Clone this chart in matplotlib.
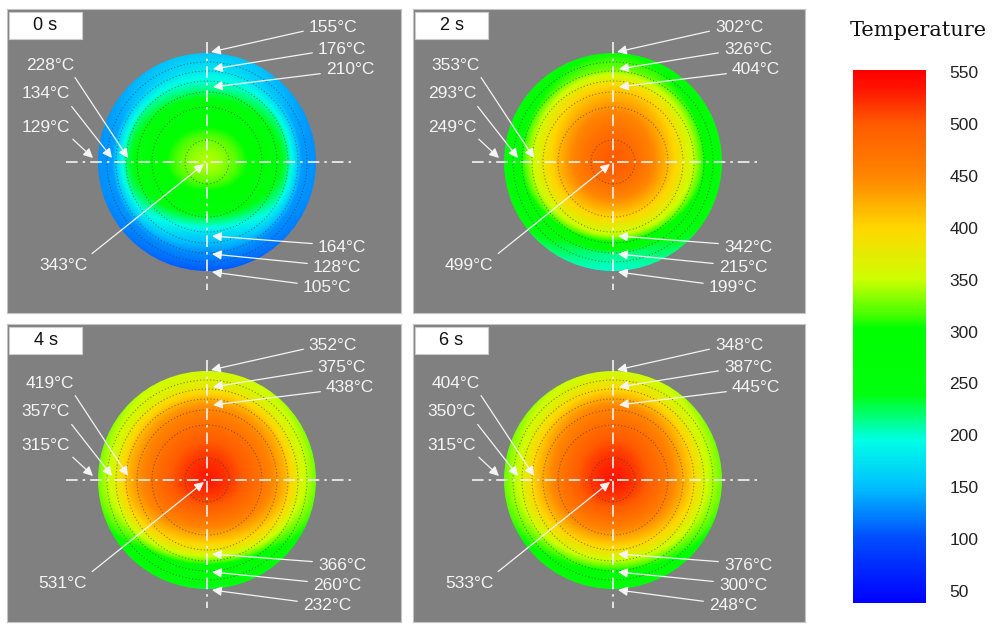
import numpy as np
import matplotlib
matplotlib.use('Agg')
import matplotlib.pyplot as plt
from matplotlib.colors import LinearSegmentedColormap, Normalize
from matplotlib.patches import Circle, Rectangle
from matplotlib.cm import ScalarMappable

# ── Data ─────────────────────────────────────────────────────────────────────

times = ['0 s', '2 s', '4 s', '6 s']
center_temp = [343, 499, 531, 533]
# top radius, outer -> inner
top_temp = [[155, 176, 210], [302, 326, 404], [352, 375, 438], [348, 387, 445]]
# left radius, inner -> outer
left_temp = [[228, 134, 129], [353, 293, 249], [419, 357, 315], [404, 350, 315]]
# bottom radius, inner -> outer
bottom_temp = [[164, 128, 105], [342, 215, 199], [366, 260, 232], [376, 300, 248]]
cbar_ticks = [50, 100, 150, 200, 250, 300, 350, 400, 450, 500, 550]

# ── Layout (pixels, relative to the disk centre, y up) ───────────────────────

W, H = 992, 630
R = 109
panels = [(7, 9, 401, 313, 207, 162), (413, 9, 805, 313, 613, 162),
          (7, 324, 401, 622, 207, 480), (413, 324, 805, 622, 613, 480)]

top_tips = [(4, 110), (6, 93), (6, 75)]
top_text = [(126, 135), (135, 113), (143, 92)]
left_tips = [(-79, 4), (-95, 4), (-114, 4)]
left_text = [(-157, 97), (-161, 68), (-161, 35)]
bot_tips = [(5, -74), (5, -92), (5, -110)]
bot_text = [(135, -85), (130, -105), (120, -125)]
mid_tip, mid_text = (-3, -2), (-144, -103)

vmin, vmax = 38.4, 552
cmap = LinearSegmentedColormap.from_list('temp', [
    (0.0, (0.0, 0.0, 1.0)),
    ((100 - vmin) / (vmax - vmin), (0.0, 0.30, 1.0)),
    ((150 - vmin) / (vmax - vmin), (0.0, 0.75, 1.0)),
    ((195 - vmin) / (vmax - vmin), (0.0, 1.0, 0.90)),
    ((240 - vmin) / (vmax - vmin), (0.0, 1.0, 0.05)),
    ((303 - vmin) / (vmax - vmin), (0.0, 1.0, 0.0)),
    ((318 - vmin) / (vmax - vmin), (0.3, 1.0, 0.0)),
    ((350 - vmin) / (vmax - vmin), (0.8, 1.0, 0.0)),
    ((400 - vmin) / (vmax - vmin), (1.0, 0.84, 0.0)),
    ((450 - vmin) / (vmax - vmin), (1.0, 0.52, 0.0)),
    ((500 - vmin) / (vmax - vmin), (1.0, 0.36, 0.0)),
    ((535 - vmin) / (vmax - vmin), (1.0, 0.08, 0.0)),
    (1.0, (1.0, 0.0, 0.0)),
])
norm = Normalize(vmin, vmax)

plt.rcParams['font.family'] = ['Liberation Sans', 'DejaVu Sans']
fig = plt.figure(figsize=(W / 100, H / 100), dpi=100)

g = np.linspace(-R, R, 300)
X, Y = np.meshgrid(g, g)
k = 1.6                          # profiles interpolated in r^k -> flatter centre
radk = np.hypot(X, Y) ** k
th = np.arctan2(Y, X)
w_top = np.clip(np.sin(th), 0, None) ** 2
w_bot = np.clip(-np.sin(th), 0, None) ** 2
w_side = np.cos(th) ** 2

white = '#f4f4f4'
for i, (l, t, r, b, cx, cy) in enumerate(panels):
    ax = fig.add_axes([l / W, 1 - b / H, (r - l) / W, (b - t) / H])
    ax.set_xlim(l - cx, r - cx)
    ax.set_ylim(cy - b, cy - t)
    ax.set_facecolor('#808080')
    ax.set_xticks([])
    ax.set_yticks([])
    for s in ax.spines.values():
        s.set_color('#c4c4c4')

    # radial profiles through the labelled points
    c = center_temp[i]
    p_top = np.interp(radk, [0] + [abs(p[1]) ** k for p in top_tips[::-1]],
                      [c] + top_temp[i][::-1])
    p_side = np.interp(radk, [0] + [abs(p[0]) ** k for p in left_tips], [c] + left_temp[i])
    p_bot = np.interp(radk, [0] + [abs(p[1]) ** k for p in bot_tips], [c] + bottom_temp[i])
    T = w_top * p_top + w_bot * p_bot + w_side * p_side

    disk = Circle((0, 0), R, transform=ax.transData)
    im = ax.imshow(T, extent=(-R, R, -R, R), origin='lower', cmap=cmap, norm=norm,
                   interpolation='bilinear', zorder=1)
    im.set_clip_path(disk)

    for rr in [22, 55, 70, 81, 91, 100]:
        ax.add_patch(Circle((0, 0), rr, fill=False, ec='#303030', lw=0.8,
                            ls=(0, (1, 2)), alpha=0.55, zorder=2))

    ax.plot([-141, 145], [0, 0], color=white, lw=1.2, ls=(0, (7, 3, 1.5, 3)), zorder=3)
    ax.plot([0, 0], [120, -128], color=white, lw=1.2, ls=(0, (7, 3, 1.5, 3)), zorder=3)

    groups = [
        (top_tips, top_text, [str(v) for v in top_temp[i]], (0, 0.3)),
        (left_tips, left_text, [str(v) for v in left_temp[i]], (0.95, 0)),
        (bot_tips, bot_text, [str(v) for v in bottom_temp[i]], (0, 0.7)),
        ([mid_tip], [mid_text], [str(c)], (1, 1)),
    ]
    for tips, texts, vals, rel in groups:
        for tip, txt, v in zip(tips, texts, vals):
            ax.annotate(v + '°C', xy=tip, xytext=txt, ha='center', va='center',
                        color=white, fontsize=12.5, zorder=4,
                        arrowprops=dict(arrowstyle='-|>', color=white, lw=0.9,
                                        mutation_scale=14, relpos=rel,
                                        shrinkA=2, shrinkB=0))

    x0 = l - cx + 2
    ax.add_patch(Rectangle((x0, cy - t - 30), 73, 27, fc='white', ec='#cccccc',
                           lw=0.8, zorder=5))
    ax.text(x0 + 36.5, cy - t - 16.5, times[i], ha='center', va='center',
            fontsize=13, color='#111111', zorder=6)

# ── Colour bar ───────────────────────────────────────────────────────────────

cax = fig.add_axes([853 / W, 1 - 603 / H, 73 / W, 533 / H])
cb = fig.colorbar(ScalarMappable(norm=norm, cmap=cmap), cax=cax, ticks=cbar_ticks)
cb.outline.set_visible(False)
cax.tick_params(length=0, pad=17, labelsize=12.5, labelcolor='#222222')
fig.text(918 / W, 1 - 31 / H, 'Temperature', ha='center', va='center',
         fontsize=15, family='DejaVu Serif', color='#111111')

fig.savefig('out.png', dpi=100)
